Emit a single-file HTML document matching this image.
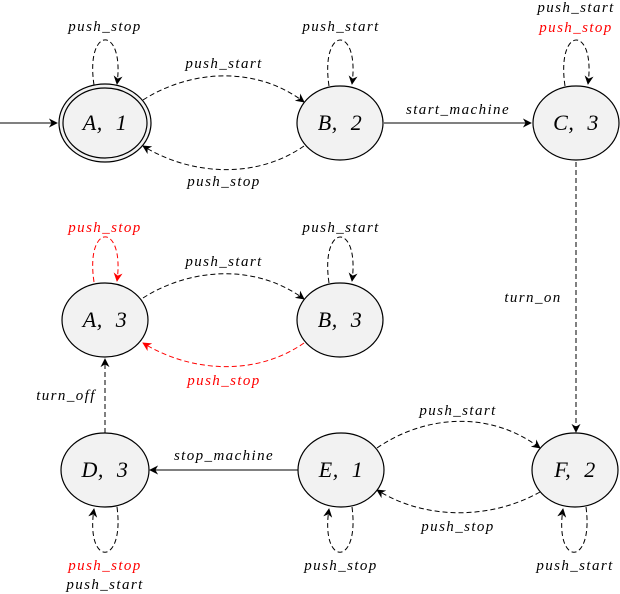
<!DOCTYPE html>
<html><head><meta charset="utf-8"><style>
html,body{margin:0;padding:0;background:#fff;}
svg{display:block;}
text{font-family:"Liberation Serif",serif;font-style:italic;}
.l{font-size:15px;letter-spacing:1.4px;}
.n{font-size:22px;word-spacing:7px;letter-spacing:0.5px;}
</style></head><body>
<svg width="620" height="594" viewBox="0 0 620 594" xmlns="http://www.w3.org/2000/svg">
<defs>
<marker id="ak" viewBox="0 0 10 10" refX="9" refY="5" markerWidth="9" markerHeight="9" orient="auto" markerUnits="userSpaceOnUse"><path d="M0,0 L10,5 L0,10 L3,5 z" fill="#000"/></marker>
<marker id="ar" viewBox="0 0 10 10" refX="9" refY="5" markerWidth="9" markerHeight="9" orient="auto" markerUnits="userSpaceOnUse"><path d="M0,0 L10,5 L0,10 L3,5 z" fill="#f00"/></marker>
</defs>
<g fill="none" stroke="#000" stroke-width="1">
<path d="M0 123 L57 123" marker-end="url(#ak)"/>
<g stroke-dasharray="5,3">
<path d="M94 85 C85 25,125 25,117 84" marker-end="url(#ak)"/>
<path d="M329 86 C320 25,360 25,352 84" marker-end="url(#ak)"/>
<path d="M565 86 C556 25,596 25,588 84" marker-end="url(#ak)"/>
<path d="M329 283 C320 222,360 222,352 281" marker-end="url(#ak)"/>
<path d="M94 282 C85 222,125 222,117 281" stroke="#f00" marker-end="url(#ar)"/>
<path d="M117 507 C125 567,85 567,94 509" marker-end="url(#ak)"/>
<path d="M352 507 C360 567,320 567,329 509" marker-end="url(#ak)"/>
<path d="M586 507 C594 567,554 567,563 509" marker-end="url(#ak)"/>
<path d="M143 100 C190 70,255 65,304 102" marker-end="url(#ak)"/>
<path d="M304 146 C255 180,190 175,143 146" marker-end="url(#ak)"/>
<path d="M143 298 C190 268,255 263,304 299" marker-end="url(#ak)"/>
<path d="M304 343 C255 377,190 372,143 343" stroke="#f00" marker-end="url(#ar)"/>
<path d="M576 162 L576 432" marker-end="url(#ak)"/>
<path d="M105 433 L105 359" marker-end="url(#ak)"/>
<path d="M377 448 C425 415,490 410,540 448" marker-end="url(#ak)"/>
<path d="M540 492 C490 520,425 520,377 490" marker-end="url(#ak)"/>
</g>
<path d="M384 123 L531 123" marker-end="url(#ak)"/>
<path d="M298 470 L150 470" marker-end="url(#ak)"/>
</g>
<g fill="#f2f2f2" stroke="#000" stroke-width="1.2">
<ellipse cx="105" cy="123" rx="46" ry="39"/>
<ellipse cx="105" cy="123" rx="42" ry="35"/>
<ellipse cx="340" cy="123" rx="43" ry="37"/>
<ellipse cx="576" cy="123" rx="43" ry="37"/>
<ellipse cx="105" cy="320" rx="43" ry="37"/>
<ellipse cx="340" cy="320" rx="43" ry="37"/>
<ellipse cx="105" cy="470" rx="44" ry="37"/>
<ellipse cx="341" cy="470" rx="43" ry="37"/>
<ellipse cx="575" cy="470" rx="43" ry="37"/>
</g>
<g class="n" text-anchor="middle">
<text x="105" y="130">A, 1</text>
<text x="340" y="130">B, 2</text>
<text x="576" y="130">C, 3</text>
<text x="105" y="327">A, 3</text>
<text x="340" y="327">B, 3</text>
<text x="105" y="477">D, 3</text>
<text x="341" y="477">E, 1</text>
<text x="575" y="477">F, 2</text>
</g>
<g class="l" text-anchor="middle">
<text x="105" y="31">push_stop</text>
<text x="341" y="31">push_start</text>
<text x="576" y="12">push_start</text>
<text x="576" y="32" fill="#f00">push_stop</text>
<text x="224" y="68">push_start</text>
<text x="224" y="186">push_stop</text>
<text x="458" y="114">start_machine</text>
<text x="105" y="232" fill="#f00">push_stop</text>
<text x="341" y="232">push_start</text>
<text x="224" y="266">push_start</text>
<text x="224" y="385" fill="#f00">push_stop</text>
<text x="533" y="302">turn_on</text>
<text x="66" y="400">turn_off</text>
<text x="224" y="460">stop_machine</text>
<text x="458" y="415">push_start</text>
<text x="458" y="531">push_stop</text>
<text x="105" y="570" fill="#f00">push_stop</text>
<text x="105" y="589">push_start</text>
<text x="341" y="570">push_stop</text>
<text x="575" y="570">push_start</text>
</g>
</svg>
</body></html>
